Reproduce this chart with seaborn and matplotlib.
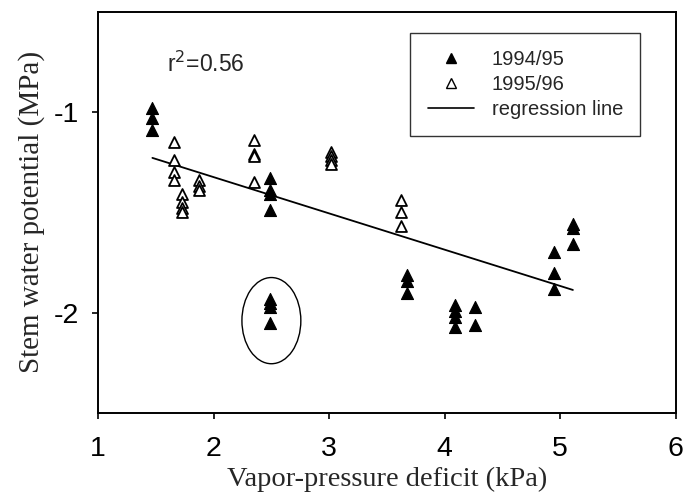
import numpy as np
import pandas as pd
import matplotlib
matplotlib.use("Agg")
import matplotlib.pyplot as plt
from matplotlib.patches import Ellipse
from matplotlib.lines import Line2D
import seaborn as sns

# ---- data ----
vpd_9495 = [1.47, 1.47, 1.47,
            2.49, 2.49, 2.49, 2.49,
            2.49, 2.49, 2.49, 2.49,
            3.67, 3.67, 3.67,
            4.09, 4.09, 4.09, 4.09,
            4.26, 4.26,
            4.95, 4.95, 4.95,
            5.11, 5.11, 5.11]
swp_9495 = [-0.98, -1.03, -1.09,
            -1.33, -1.39, -1.41, -1.49,
            -1.93, -1.95, -1.97, -2.05,
            -1.81, -1.84, -1.90,
            -1.96, -1.99, -2.02, -2.07,
            -1.97, -2.06,
            -1.70, -1.80, -1.88,
            -1.56, -1.58, -1.66]

vpd_9596 = [1.66, 1.66, 1.66, 1.66,
            1.73, 1.73, 1.73, 1.73,
            1.87, 1.87, 1.87,
            2.35, 2.35, 2.35, 2.35,
            3.02, 3.02, 3.02, 3.02,
            3.62, 3.62, 3.62]
swp_9596 = [-1.15, -1.24, -1.30, -1.34,
            -1.41, -1.45, -1.48, -1.50,
            -1.34, -1.37, -1.39,
            -1.14, -1.21, -1.22, -1.35,
            -1.20, -1.22, -1.24, -1.26,
            -1.44, -1.50, -1.57]

reg_slope = -0.181
reg_intercept = -0.962
r2_text = "r$^2$=0.56"
series_labels = ["1994/95", "1995/96", "regression line"]
x_ticks = [1, 2, 3, 4, 5, 6]
y_ticks = [-1, -2]
outlier_center = (2.50, -2.04)
outlier_size = (0.51, 0.43)

sns.set_theme(style="ticks")
plt.rcParams['font.family'] = ['Liberation Sans', 'DejaVu Sans']

fig = plt.figure(figsize=(6.86, 4.98), dpi=100)
ax = fig.add_axes([0.143, 0.171, 0.842, 0.805])

df1 = pd.DataFrame({"vpd": vpd_9495, "swp": swp_9495})
df2 = pd.DataFrame({"vpd": vpd_9596, "swp": swp_9596})

sns.scatterplot(data=df1, x="vpd", y="swp", marker="^", s=75, color="black",
                edgecolor="black", linewidth=0.8, ax=ax, legend=False, zorder=3)
sns.scatterplot(data=df2, x="vpd", y="swp", marker="^", s=62, facecolor="white",
                edgecolor="black", linewidth=1.3, ax=ax, legend=False, zorder=3)

all_x = np.array(vpd_9495 + vpd_9596)
reg_x = np.array([all_x.min(), all_x.max()])
reg_df = pd.DataFrame({"vpd": reg_x, "swp": reg_intercept + reg_slope * reg_x})
sns.lineplot(data=reg_df, x="vpd", y="swp", color="black", linewidth=1.3, ax=ax, zorder=2)

ax.add_patch(Ellipse(outlier_center, outlier_size[0], outlier_size[1],
                     fill=False, edgecolor="black", linewidth=1.0))

ax.text(1.6, -0.76, r2_text, fontsize=16.5, va="center", ha="left",
        family=['Liberation Sans', 'DejaVu Sans'])

ax.set_xlim(1, 6)
ax.set_ylim(-2.5, -0.5)
ax.set_xticks(x_ticks)
ax.set_yticks(y_ticks)
ax.set_xticklabels([str(v) for v in x_ticks], fontsize=20.5)
ax.set_yticklabels([str(v) for v in y_ticks], fontsize=20.5)
ax.tick_params(direction="out", length=4, width=1.2, colors="black", pad=10)
ax.tick_params(axis="x", pad=13)

for sp in ax.spines.values():
    sp.set_visible(True)
    sp.set_color("black")
    sp.set_linewidth(1.4)

ax.set_xlabel("Vapor-pressure deficit (kPa)", fontsize=20.5,
              family=['Liberation Serif', 'DejaVu Serif'], labelpad=3)
ax.set_ylabel("Stem water potential (MPa)", fontsize=21,
              family=['Liberation Serif', 'DejaVu Serif'], labelpad=6)

handles = [
    Line2D([], [], marker="^", linestyle="none", color="black", markersize=6.5),
    Line2D([], [], marker="^", linestyle="none", markerfacecolor="white",
           markeredgecolor="black", markersize=6.5, markeredgewidth=1.0),
    Line2D([], [], color="black", linewidth=1.2),
]
leg = ax.legend(handles, series_labels, loc="upper right",
                bbox_to_anchor=(0.939, 0.948), borderaxespad=0, fontsize=14.5,
                frameon=True, fancybox=False, edgecolor="black",
                handlelength=2.3, labelspacing=0.3, handletextpad=0.9,
                borderpad=0.85)
leg.get_frame().set_linewidth(1.0)

fig.savefig("out.png", dpi=100)
